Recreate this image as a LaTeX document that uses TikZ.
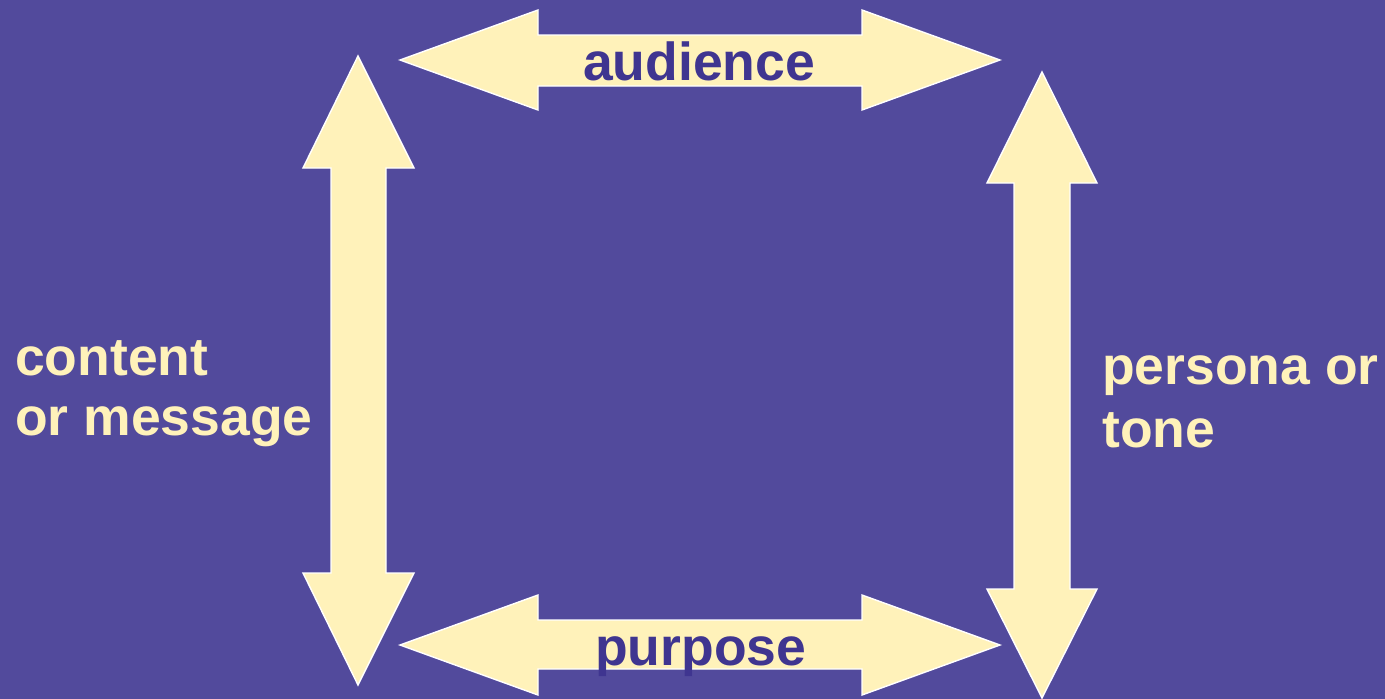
\documentclass[tikz,border=0pt]{standalone}
\usepackage{fontspec}
\setmainfont{Liberation Sans}
\definecolor{bgpurple}{HTML}{524A9C}
\definecolor{arrowyellow}{HTML}{FFF2BA}
\definecolor{textpurple}{HTML}{3F3590}
\begin{document}
\begin{tikzpicture}[x=1pt,y=-1pt,
  bigarrow/.style={fill=arrowyellow,draw=white,line width=1.4pt,line join=miter},
  lbl/.style={inner sep=0pt,anchor=base west,font=\fontsize{53.5}{60}\selectfont\bfseries},
  darklbl/.style={lbl,text=textpurple},
  lightlbl/.style={lbl,text=arrowyellow}]
\fill[bgpurple] (0,0) rectangle (1385,699);
\useasboundingbox (0,0) rectangle (1385,699);
% top arrow (audience)
\draw[bigarrow] (400,60) -- (538,10) -- (538,35) -- (862,35) -- (862,10) -- (1000,60)
  -- (862,110) -- (862,86) -- (538,86) -- (538,110) -- cycle;
% bottom arrow (purpose)
\draw[bigarrow] (400,645) -- (538,595) -- (538,620) -- (862,620) -- (862,595) -- (1000,645)
  -- (862,695) -- (862,669) -- (538,669) -- (538,695) -- cycle;
% left arrow (content)
\draw[bigarrow] (358,56) -- (414,168) -- (386,168) -- (386,573) -- (414,573) -- (358,685)
  -- (303,573) -- (331,573) -- (331,168) -- (303,168) -- cycle;
% right arrow (persona)
\draw[bigarrow] (1042,72) -- (1097,183) -- (1070,183) -- (1070,589) -- (1097,589) -- (1042,698)
  -- (987,589) -- (1014,589) -- (1014,183) -- (987,183) -- cycle;
\node[darklbl] (aud) at (583,80) {audience};
\node[darklbl] (pur) at (595,665) {purpose};
\node[lightlbl] (con1) at (15,375) {content};
\node[lightlbl] (con2) at (15,435) {or message};
\node[lightlbl] (per1) at (1102,384) {persona or};
\node[lightlbl] (per2) at (1102,447) {tone};
\end{tikzpicture}
\end{document}
